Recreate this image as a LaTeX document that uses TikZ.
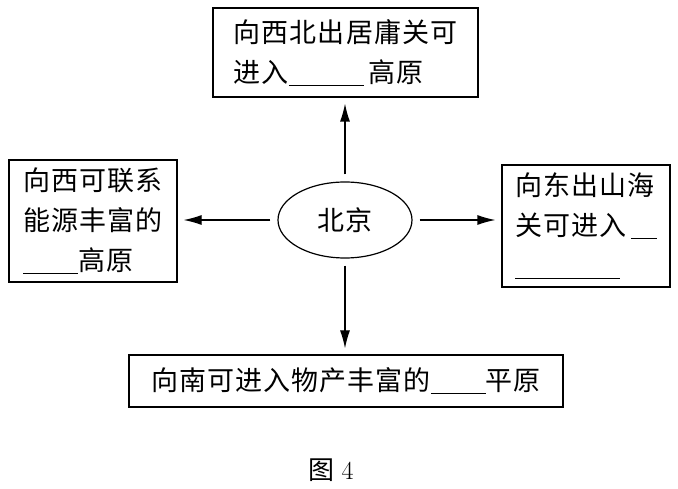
\documentclass[tikz,border=0pt]{standalone}
\usepackage{fontspec}
\newfontfamily\cjk{Noto Sans CJK SC}[LetterSpace=4]
\usetikzlibrary{shapes.geometric,arrows.meta}
\newcommand{\blank}[1]{\rule[-3pt]{#1}{0.9pt}}
\tikzset{
    box/.style={draw, line width=1.2pt, align=left, inner sep=0pt,
        font=\cjk\fontsize{27}{40}\selectfont},
    arr/.style={-{Latex[length=18pt,width=10pt]}, line width=1.2pt,
        shorten <=7pt, shorten >=6pt}
}
\begin{document}
\begin{tikzpicture}[x=1pt,y=-1pt]
    \useasboundingbox (0,0) rectangle (678,489);
    \node[box, minimum width=265pt, minimum height=89pt] (nw) at (345.5,52.5) {向西北出居庸关可\\进入\blank{75pt}\,高原};
    \node[box, minimum width=168pt, minimum height=122pt] (w) at (93,221) {向西可联系\\能源丰富的\\\blank{55pt}高原};
    \node[box, minimum width=168pt, minimum height=122pt] (e) at (586,226) {向东出山海\\关可进入\,\blank{26pt}\\\blank{105pt}};
    \node[box, minimum width=434pt, minimum height=52pt] (s) at (346,381) {向南可进入物产丰富的\blank{55pt}平原};
    \node[draw, ellipse, line width=1.2pt, minimum width=134pt, minimum height=76pt,
        font=\cjk\fontsize{27}{30}\selectfont] (bj) at (345,220) {北京};
    \node[font=\fontsize{26}{30}\selectfont] (cap) at (331,470) {{\cjk 图}\hspace{7pt}4};

    \draw[arr] (bj) -- (bj |- nw.south);
    \draw[arr] (bj) -- (bj -| w.east);
    \draw[arr] (bj) -- (bj -| e.west);
    \draw[arr] (bj) -- (bj |- s.north);
\end{tikzpicture}
\end{document}
